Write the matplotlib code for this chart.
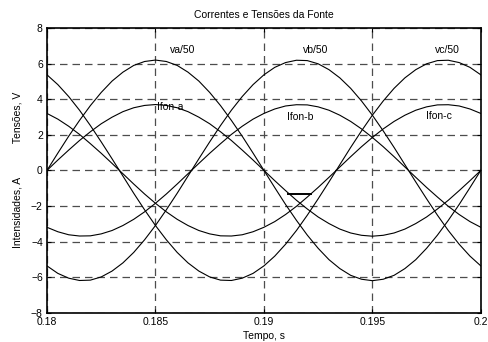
import matplotlib
matplotlib.use("Agg")
import matplotlib.pyplot as plt

plt.rcParams['font.family'] = ['Liberation Sans', 'DejaVu Sans']

# tempo (s), amostras a cada 0.5 ms
t = [0.18 + 0.0005 * k for k in range(41)]

# tensoes da fonte / 50
va = [0, 0.97, 1.92, 2.81, 3.64, 4.38, 5.02, 5.52, 5.90, 6.12, 6.20, 6.12, 5.90, 5.52, 5.02, 4.38, 3.64,
      2.81, 1.92, 0.97, 0, -0.97, -1.92, -2.81, -3.64, -4.38, -5.02, -5.52, -5.90, -6.12, -6.20, -6.12,
      -5.90, -5.52, -5.02, -4.38, -3.64, -2.81, -1.92, -0.97, 0]
vb = [-5.37, -5.79, -6.06, -6.19, -6.17, -5.99, -5.66, -5.20, -4.61, -3.90, -3.10, -2.22, -1.29, -0.32,
      0.65, 1.60, 2.52, 3.38, 4.15, 4.82, 5.37, 5.79, 6.06, 6.19, 6.17, 5.99, 5.66, 5.20, 4.61, 3.90, 3.10,
      2.22, 1.29, 0.32, -0.65, -1.60, -2.52, -3.38, -4.15, -4.82, -5.37]
vc = [5.37, 4.82, 4.15, 3.38, 2.52, 1.60, 0.65, -0.32, -1.29, -2.22, -3.10, -3.90, -4.61, -5.20, -5.66,
      -5.99, -6.17, -6.19, -6.06, -5.79, -5.37, -4.82, -4.15, -3.38, -2.52, -1.60, -0.65, 0.32, 1.29, 2.22,
      3.10, 3.90, 4.61, 5.20, 5.66, 5.99, 6.17, 6.19, 6.06, 5.79, 5.37]

# correntes da fonte
ia = [0, 0.58, 1.14, 1.68, 2.17, 2.62, 2.99, 3.30, 3.52, 3.65, 3.70, 3.65, 3.52, 3.30, 2.99, 2.62, 2.17,
      1.68, 1.14, 0.58, 0, -0.58, -1.14, -1.68, -2.17, -2.62, -2.99, -3.30, -3.52, -3.65, -3.70, -3.65,
      -3.52, -3.30, -2.99, -2.62, -2.17, -1.68, -1.14, -0.58, 0]
ib = [-3.20, -3.45, -3.62, -3.69, -3.68, -3.57, -3.38, -3.10, -2.75, -2.33, -1.85, -1.33, -0.77, -0.19,
      0.39, 0.96, 1.50, 2.02, 2.48, 2.88, 3.20, 3.45, 3.62, 3.69, 3.68, 3.57, 3.38, 3.10, 2.75, 2.33, 1.85,
      1.33, 0.77, 0.19, -0.39, -0.96, -1.50, -2.02, -2.48, -2.88, -3.20]
ic = [3.20, 2.88, 2.48, 2.02, 1.50, 0.96, 0.39, -0.19, -0.77, -1.33, -1.85, -2.33, -2.75, -3.10, -3.38,
      -3.57, -3.68, -3.69, -3.62, -3.45, -3.20, -2.88, -2.48, -2.02, -1.50, -0.96, -0.39, 0.19, 0.77, 1.33,
      1.85, 2.33, 2.75, 3.10, 3.38, 3.57, 3.68, 3.69, 3.62, 3.45, 3.20]

# pequeno traco horizontal que aparece no original
glitch_t = [0.19112, 0.19215]
glitch_y = [-1.33, -1.33]

labels = ['va/50', 'vb/50', 'vc/50', 'Ifon-a', 'Ifon-b', 'Ifon-c']
label_x = [0.18567, 0.1918, 0.19788, 0.18507, 0.19106, 0.19747]
label_y = [6.75, 6.75, 6.75, 3.55, 3.0, 3.05]

fig = plt.figure(figsize=(4.88, 3.42), dpi=100)
ax = fig.add_axes([0.0963, 0.0857, 0.889, 0.8323])

for s in [va, vb, vc, ia, ib, ic]:
    ax.plot(t, s, color='black', linewidth=0.8)
ax.plot(glitch_t, glitch_y, color='black', linewidth=1.4)

for lab, x, y in zip(labels, label_x, label_y):
    ax.text(x, y, lab, fontsize=7.5, ha='left', va='center')

ax.set_xlim(0.18, 0.2)
ax.set_ylim(-8, 8)
ax.set_xticks([0.18, 0.185, 0.19, 0.195, 0.2])
ax.set_xticklabels(['0.18', '0.185', '0.19', '0.195', '0.2'])
ax.set_yticks(range(-8, 9, 2))
ax.grid(True, color='0.3', linestyle=(0, (6, 4)), linewidth=0.9)
ax.tick_params(direction='in', top=True, right=True, labelsize=7.5, length=3, width=0.8, pad=3)
for sp in ax.spines.values():
    sp.set_linewidth(1.2)

ax.set_title('Correntes e Tensões da Fonte', fontsize=7.5, pad=7)
ax.set_xlabel('Tempo, s', fontsize=7.5, labelpad=3)
ax.set_ylabel('Intensidades, A            Tensões, V', fontsize=7.5, labelpad=6)

fig.savefig('out.png', dpi=100)
